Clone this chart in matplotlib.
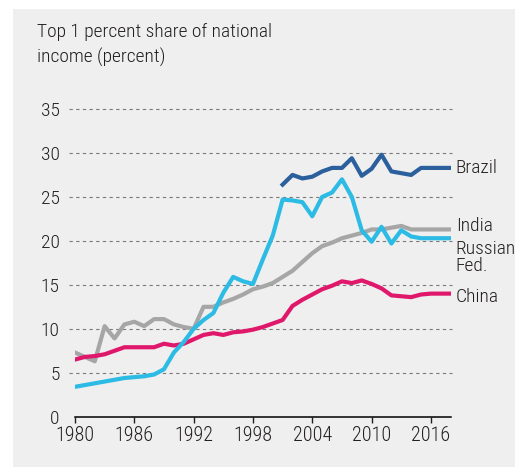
import matplotlib
matplotlib.use("Agg")
import matplotlib.pyplot as plt
from matplotlib.patches import Rectangle

years = list(range(1980, 2019))

china = [6.5, 6.8, 6.9, 7.1, 7.5, 7.9, 7.9, 7.9, 7.9, 8.3,
         8.1, 8.3, 8.8, 9.3, 9.5, 9.3, 9.6, 9.7, 9.9, 10.2,
         10.6, 11.0, 12.6, 13.3, 13.9, 14.5, 14.9, 15.4, 15.2, 15.5,
         15.1, 14.6, 13.8, 13.7, 13.6, 13.9, 14.0, 14.0, 14.0]

india = [7.3, 6.8, 6.3, 10.3, 8.9, 10.5, 10.8, 10.3, 11.1, 11.1,
         10.5, 10.2, 10.0, 12.5, 12.5, 13.0, 13.4, 13.9, 14.5, 14.8,
         15.2, 15.9, 16.6, 17.6, 18.6, 19.4, 19.8, 20.3, 20.6, 20.9,
         21.3, 21.3, 21.5, 21.7, 21.3, 21.3, 21.3, 21.3, 21.3]

russia = [3.4, 3.6, 3.8, 4.0, 4.2, 4.4, 4.5, 4.6, 4.8, 5.4,
          7.3, 8.5, 10.0, 11.0, 11.8, 14.1, 15.9, 15.4, 15.1, 17.9,
          20.6, 24.7, 24.6, 24.4, 22.8, 25.0, 25.5, 27.0, 25.0, 21.2,
          19.9, 21.6, 19.7, 21.2, 20.5, 20.3, 20.3, 20.3, 20.3]

brazil_years = list(range(2001, 2019))
brazil = [26.4, 27.5, 27.1, 27.3, 27.9, 28.3, 28.3, 29.4, 27.4, 28.2,
          29.8, 27.9, 27.7, 27.5, 28.3, 28.3, 28.3, 28.3]

xticks = [1980, 1986, 1992, 1998, 2004, 2010, 2016]
yticks = [0, 5, 10, 15, 20, 25, 30, 35]

FONT = ["Roboto Condensed", "DejaVu Sans"]
TXT = "#231f20"
plt.rcParams["font.family"] = FONT
plt.rcParams["font.weight"] = "light"

fig = plt.figure(figsize=(5.15, 4.67), dpi=100)
fig.patch.set_facecolor("white")
fig.patches.append(Rectangle((13 / 515, 0), 1, 1 - 9 / 467, transform=fig.transFigure,
                             facecolor="#efefef", edgecolor="none", zorder=-5))

ax = fig.add_axes([75 / 515, 50.3 / 467, 376 / 515, (416.7 - 109) / 467])
ax.set_facecolor("none")
ax.set_xlim(1980, 2018.03)
ax.set_ylim(0, 35)

# dashed guide lines, a little wider than the axis
ax.hlines(yticks[1:], 1979.4, 2018.1, colors="#7a7a7a", linestyles=(0, (3, 3)),
          linewidth=0.8, clip_on=False, zorder=1)

ax.plot(years, india, color="#a6a6a6", lw=3, zorder=3)
ax.plot(years, china, color="#e0186c", lw=3, zorder=3)
ax.plot(years, russia, color="#2bbbe4", lw=3, zorder=4)
ax.plot(brazil_years, brazil, color="#2b609c", lw=3, zorder=5)

for side in ["top", "right", "left"]:
    ax.spines[side].set_visible(False)
ax.spines["bottom"].set_linewidth(1.1)
ax.spines["bottom"].set_bounds(1980, 2018.03)

ax.set_xticks(xticks)
ax.set_yticks(yticks)
ax.tick_params(axis="x", length=4.5, width=1, pad=2, labelsize=14.5, colors=TXT)
ax.tick_params(axis="y", length=0, pad=11, labelsize=14, colors=TXT)

# series labels at the right end
lx = 2018.5
for txt, yv in [("Brazil", 27.7), ("India", 21.07), ("Russian", 18.55),
                ("Fed.", 16.6), ("China", 13.1)]:
    ax.text(lx, yv, txt, fontsize=14, color=TXT, va="baseline", ha="left", clip_on=False)

fig.text(37 / 515, 1 - 36.7 / 467, "Top 1 percent share of national", fontsize=14,
         color=TXT, va="baseline", ha="left")
fig.text(37 / 515, 1 - 62.7 / 467, "income (percent)", fontsize=14,
         color=TXT, va="baseline", ha="left")

fig.savefig("out.png", dpi=100)
